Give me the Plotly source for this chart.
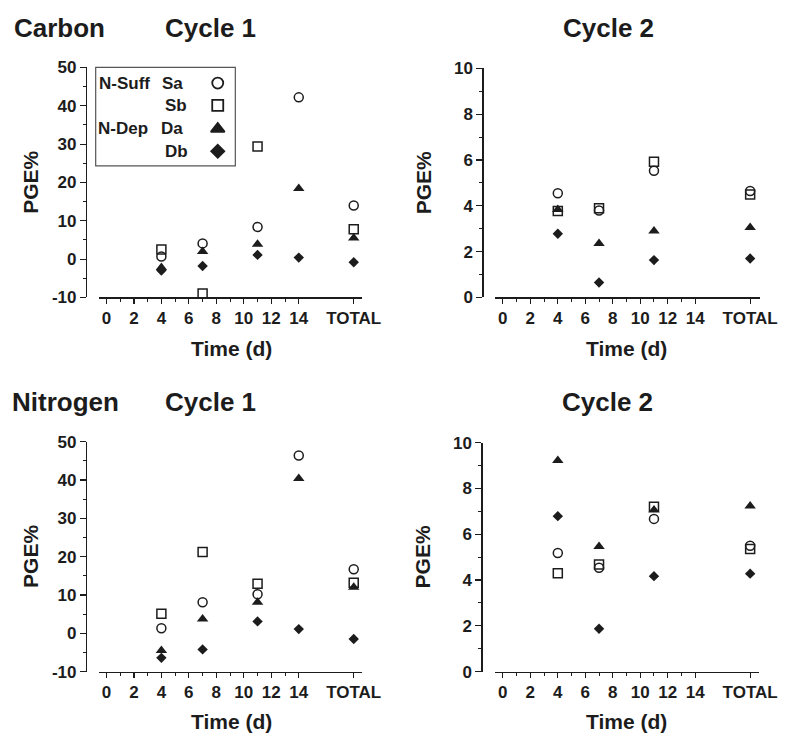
import plotly.graph_objects as go

# ---------------- data ----------------
DAY_VALUES = [4, 7, 11, 14, 18]          # 18 is the "TOTAL" column position
TICK_VALS = [0, 2, 4, 6, 8, 10, 12, 14, 18]
TICK_TEXT = ["0", "2", "4", "6", "8", "10", "12", "14", "TOTAL"]
MINOR_TICK_VALS = [1, 3, 5, 7, 9, 11, 13]

Y_TICKS_CYCLE1 = [-10, 0, 10, 20, 30, 40, 50]
Y_TICKS_CYCLE2 = [0, 2, 4, 6, 8, 10]

SERIES = ["Sa", "Sb", "Da", "Db"]

carbon_c1_Sa = [0.7, 4.1, 8.4, 42.2, 14.0]
carbon_c1_Sb = [2.5, -9.0, 29.4, None, 7.8]
carbon_c1_Da = [-2.2, 2.0, 3.9, 18.4, 5.5]
carbon_c1_Db = [-3.0, -1.8, 1.1, 0.4, -0.8]

carbon_c2_Sa = [4.55, 3.80, 5.53, None, 4.65]
carbon_c2_Sb = [3.77, 3.90, 5.93, None, 4.50]
carbon_c2_Da = [3.84, 2.35, 2.90, None, 3.05]
carbon_c2_Db = [2.78, 0.65, 1.63, None, 1.70]

nitrogen_c1_Sa = [1.3, 8.1, 10.2, 46.4, 16.7]
nitrogen_c1_Sb = [5.1, 21.2, 12.9, None, 13.2]
nitrogen_c1_Da = [-4.5, 3.7, 8.1, 40.4, 12.0]
nitrogen_c1_Db = [-6.4, -4.2, 3.1, 1.1, -1.5]

nitrogen_c2_Sa = [5.18, 4.54, 6.67, None, 5.50]
nitrogen_c2_Sb = [4.30, 4.68, 7.20, None, 5.35]
nitrogen_c2_Da = [9.22, 5.46, 7.06, None, 7.23]
nitrogen_c2_Db = [6.79, 1.87, 4.17, None, 4.28]

LEGEND_GROUPS = ["N-Suff", "", "N-Dep", ""]

# ---------------- styling ----------------
W, H = 806, 744
FONT = "Liberation Sans, Arial, Helvetica, sans-serif"
INK = "#1c1c1c"

STYLE = {
    "Sa": dict(symbol="circle-open", size=9, line=dict(width=1.5, color=INK), color=INK),
    "Sb": dict(symbol="square-open", size=9, line=dict(width=1.5, color=INK), color=INK),
    "Da": dict(symbol="triangle-up", size=10, color=INK, line=dict(width=0)),
    "Db": dict(symbol="diamond", size=8, color=INK, line=dict(width=0)),
}


def fx(px):
    return px / W


def fy(py):
    return 1 - py / H


def bold(t):
    return f"<b>{t}</b>"


PX_PER_UNIT = 14.07

panels = [
    dict(data=[carbon_c1_Sa, carbon_c1_Sb, carbon_c1_Da, carbon_c1_Db],
         xdom=(101, 371), ydom=(60, 296), yline=88, x0=109,
         yrange=(-10, 50), yticks=Y_TICKS_CYCLE1, minor=5),
    dict(data=[carbon_c2_Sa, carbon_c2_Sb, carbon_c2_Da, carbon_c2_Db],
         xdom=(507, 778), ydom=(61, 296), yline=494, x0=515,
         yrange=(0, 10), yticks=Y_TICKS_CYCLE2, minor=1),
    dict(data=[nitrogen_c1_Sa, nitrogen_c1_Sb, nitrogen_c1_Da, nitrogen_c1_Db],
         xdom=(101, 371), ydom=(444, 680), yline=88, x0=109,
         yrange=(-10, 50), yticks=Y_TICKS_CYCLE1, minor=5),
    dict(data=[nitrogen_c2_Sa, nitrogen_c2_Sb, nitrogen_c2_Da, nitrogen_c2_Db],
         xdom=(507, 777), ydom=(445, 680), yline=493, x0=515,
         yrange=(0, 10), yticks=Y_TICKS_CYCLE2, minor=1),
]

fig = go.Figure()
layout = {}
TICKFONT = dict(family=FONT, size=17, color=INK)

for i, p in enumerate(panels, start=1):
    xa = "x" if i == 1 else f"x{i}"
    ya = "y" if i == 1 else f"y{i}"
    for name, vals in zip(SERIES, p["data"]):
        st = STYLE[name]
        fig.add_trace(go.Scatter(
            x=DAY_VALUES, y=vals, mode="markers", name=name,
            marker=dict(symbol=st["symbol"], size=st["size"], color=st["color"],
                        line=st["line"], opacity=1),
            xaxis=xa, yaxis=ya, showlegend=False, cliponaxis=False,
        ))
    x_left = -(p["x0"] - p["xdom"][0]) / PX_PER_UNIT
    x_right = (p["xdom"][1] - p["x0"]) / PX_PER_UNIT
    layout[f"xaxis{'' if i == 1 else i}"] = dict(
        domain=[fx(p["xdom"][0]), fx(p["xdom"][1])],
        range=[x_left, x_right], anchor=ya,
        tickmode="array", tickvals=TICK_VALS, ticktext=[bold(t) for t in TICK_TEXT],
        ticks="outside", ticklen=5, tickwidth=1.2, tickcolor=INK,
        minor=dict(tickmode="array", tickvals=MINOR_TICK_VALS, ticks="outside",
                   ticklen=3, tickwidth=1, tickcolor=INK),
        showline=True, linecolor=INK, linewidth=1.3,
        showgrid=False, zeroline=False, fixedrange=True,
        tickfont=TICKFONT,
    )
    layout[f"yaxis{'' if i == 1 else i}"] = dict(
        domain=[fy(p["ydom"][1]), fy(p["ydom"][0])],
        range=list(p["yrange"]), anchor="free", position=fx(p["yline"]),
        tickmode="array", tickvals=p["yticks"],
        ticktext=[bold(str(v)) for v in p["yticks"]],
        ticks="outside", ticklen=6, tickwidth=1.2, tickcolor=INK,
        minor=dict(dtick=p["minor"], tick0=0, ticks="outside", ticklen=3,
                   tickwidth=1, tickcolor=INK),
        showline=True, linecolor=INK, linewidth=1.3,
        showgrid=False, zeroline=False, fixedrange=True,
        tickfont=TICKFONT,
    )

# ---------------- legend (custom, inside Carbon Cycle 1 panel) ----------------
BOX = (98, 60, 241, 161)  # left, top, right, bottom (px)
LEG_ROWS_PY = [76, 99, 123, 146]
LEG_GROUP_CX = [127, None, 126, None]
LEG_NAME_CX = [177, 180, 176, 181]
LEG_MARK_PX = 223

fig.add_trace(go.Scatter(
    x=[LEG_MARK_PX] * 4, y=LEG_ROWS_PY, mode="markers",
    marker=dict(
        symbol=[STYLE[s]["symbol"] for s in SERIES],
        size=[STYLE[s]["size"] + 2 for s in SERIES],
        color=INK, line=dict(width=1.8, color=INK), opacity=1,
    ),
    xaxis="x5", yaxis="y5", showlegend=False, hoverinfo="skip", cliponaxis=False,
))
layout["xaxis5"] = dict(domain=[fx(BOX[0]), fx(BOX[2])], range=[BOX[0], BOX[2]],
                        anchor="y5", visible=False, fixedrange=True)
layout["yaxis5"] = dict(domain=[fy(BOX[3]), fy(BOX[1])], range=[BOX[3], BOX[1]],
                        anchor="x5", visible=False, fixedrange=True)

shapes = [dict(type="rect", xref="paper", yref="paper", layer="below",
               x0=fx(BOX[0]), x1=fx(BOX[2]), y0=fy(BOX[3]), y1=fy(BOX[1]),
               line=dict(color="#555555", width=1.2), fillcolor="rgba(0,0,0,0)")]

annotations = []


def ann(text, px, py, size, angle=0):
    annotations.append(dict(
        text=bold(text), x=fx(px), y=fy(py), xref="paper", yref="paper",
        xanchor="center", yanchor="middle", showarrow=False, textangle=angle,
        font=dict(family=FONT, size=size, color=INK),
    ))


for grp, name, py, gcx, ncx in zip(LEGEND_GROUPS, SERIES, LEG_ROWS_PY, LEG_GROUP_CX, LEG_NAME_CX):
    if grp:
        ann(grp, gcx, py, 17)
    ann(name, ncx, py, 17)

# panel titles
ann("Carbon", 61, 19, 26)
ann("Cycle 1", 216, 19, 26)
ann("Cycle 2", 623, 19, 26)
ann("Nitrogen", 67, 403, 26)
ann("Cycle 1", 216, 403, 26)
ann("Cycle 2", 622, 403, 26)

# axis titles
for px, py in [(31, 178), (434, 178), (31, 562), (433, 562)]:
    ann("PGE%", px, py, 21, angle=-90)
for px, py in [(237, 348), (642, 348), (237, 731), (642, 731)]:
    ann("Time (d)", px, py, 21)

fig.update_layout(
    width=W, height=H, autosize=False,
    margin=dict(l=0, r=0, t=0, b=0),
    paper_bgcolor="white", plot_bgcolor="rgba(0,0,0,0)",
    showlegend=False, shapes=shapes, annotations=annotations,
    font=dict(family=FONT, color=INK), hovermode=False,
    **layout,
)

fig.write_html(
    "out.html",
    config={"displayModeBar": False, "staticPlot": True},
    post_script="document.body.style.margin='0px';document.body.style.padding='0px';",
)
